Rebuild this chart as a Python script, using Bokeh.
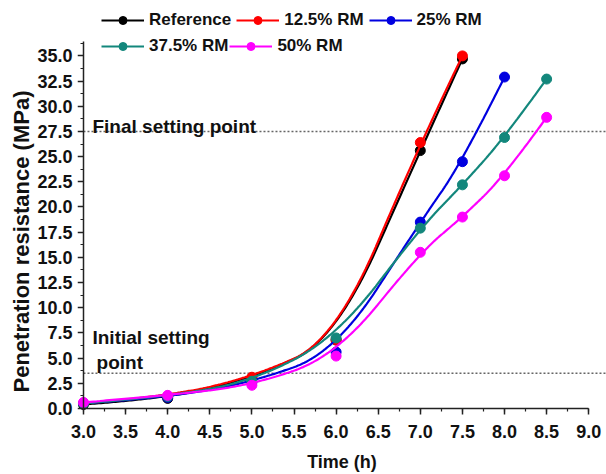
import numpy as np
from bokeh.plotting import figure
from bokeh.models import (Range1d, SingleIntervalTicker, NumeralTickFormatter,
                          Legend, LegendItem, Label, LinearAxis, Title)
from bokeh.embed import file_html
from bokeh.resources import INLINE

# Penetration resistance (MPa) against time (h)
time_short = [3.0, 4.0, 5.0, 6.0, 7.0, 7.5]
time_mid = [3.0, 4.0, 5.0, 6.0, 7.0, 7.5, 8.0]
time_long = [3.0, 4.0, 5.0, 6.0, 7.0, 7.5, 8.0, 8.5]

reference = [0.4, 1.0, 3.0, 6.8, 25.6, 34.7]
rm_12_5 = [0.5, 1.2, 3.1, 6.8, 26.4, 35.0]
rm_25 = [0.5, 1.1, 2.6, 5.6, 18.5, 24.5, 32.9]
rm_37_5 = [0.5, 1.2, 2.7, 7.0, 17.9, 22.2, 26.9, 32.7]
rm_50 = [0.6, 1.3, 2.3, 5.2, 15.5, 19.0, 23.1, 28.9]

series = [
    ("Reference", time_short, reference, "#000000"),
    ("12.5% RM", time_short, rm_12_5, "#ff0000"),
    ("25% RM", time_mid, rm_25, "#0000e0"),
    ("37.5% RM", time_long, rm_37_5, "#13877c"),
    ("50% RM", time_long, rm_50, "#ff00ff"),
]

final_setting = 27.5
initial_setting = 3.5

FONT = "Liberation Sans"
INK = "#111111"


def bspline(xs, ys, n=300, k=2):
    """Clamped uniform B-spline using the measured points as control points."""
    P = np.column_stack([xs, ys]).astype(float)
    m = len(P)
    k = min(k, m - 1)
    knots = np.concatenate([np.zeros(k + 1), np.arange(1, m - k),
                            np.full(k + 1, m - k)]).astype(float)
    t = np.linspace(0, m - k, n)
    N = np.zeros((n, len(knots) - 1))
    for i in range(len(knots) - 1):
        N[:, i] = (knots[i] <= t) & (t < knots[i + 1])
    last = np.where(knots[:-1] < knots[1:])[0][-1]
    N[t == knots[-1], last] = 1.0
    for d in range(1, k + 1):
        Nn = np.zeros((n, len(knots) - 1 - d))
        for i in range(len(knots) - 1 - d):
            a = knots[i + d] - knots[i]
            b = knots[i + d + 1] - knots[i + 1]
            term = np.zeros(n)
            if a > 0:
                term += (t - knots[i]) / a * N[:, i]
            if b > 0:
                term += (knots[i + d + 1] - t) / b * N[:, i + 1]
            Nn[:, i] = term
        N = Nn
    C = N @ P
    return C[:, 0], C[:, 1]


x_start, x_end = 2.929, 9.211
p = figure(width=606, height=474, output_backend="svg", toolbar_location=None,
           x_range=Range1d(x_start, x_end), y_range=Range1d(-0.7, 40.5),
           min_border_left=77, min_border_right=0, min_border_top=0,
           min_border_bottom=58)
p.outline_line_color = None
p.grid.visible = False
p.background_fill_color = "white"

# setting-point guide lines
for level in (final_setting, initial_setting):
    p.segment(x0=[3.0], y0=[level], x1=[x_end], y1=[level],
              line_color="#666666", line_width=1.6, line_dash="2 2")

items = []
for name, xs, ys, color in series:
    cx, cy = bspline(xs, ys)
    lr = p.line(cx, cy, line_color=color, line_width=2.2)
    sr = p.scatter(xs, ys, marker="circle", size=10, fill_color=color,
                   line_color=color)
    items.append(LegendItem(label=name, renderers=[lr, sr]))

x_ticker = SingleIntervalTicker(interval=0.5, num_minor_ticks=2)
y_ticker = SingleIntervalTicker(interval=2.5, num_minor_ticks=2)
fmt = NumeralTickFormatter(format="0.0")

# frame-edge axes carry the tick labels only
xl, yl = p.xaxis[0], p.yaxis[0]
for ax in (xl, yl):
    ax.axis_line_color = None
    ax.major_tick_line_color = None
    ax.minor_tick_line_color = None
    ax.major_tick_in = ax.major_tick_out = 0
    ax.minor_tick_in = ax.minor_tick_out = 0
    ax.major_label_text_font = FONT
    ax.major_label_text_font_style = "bold"
    ax.major_label_text_font_size = "18px"
    ax.major_label_text_color = INK
    ax.axis_label_text_font = FONT
    ax.axis_label_text_font_style = "bold"
    ax.axis_label_text_color = INK
    ax.formatter = fmt
xl.ticker = x_ticker
yl.ticker = y_ticker
xl.bounds = (3.0, 9.0)
yl.bounds = (0.0, 36.4)
xl.axis_label = "Time (h)"
xl.axis_label_text_font_size = "18px"
xl.major_label_standoff = 9
yl.major_label_standoff = 5
xl.axis_label_standoff = 11

# axis lines and ticks, crossing at (3.0, 0.0)
for ax, loc, ticker, bounds, side in [
        (LinearAxis(), 0.0, x_ticker, (3.0, 9.0), "below"),
        (LinearAxis(), 3.0, y_ticker, (0.0, 36.4), "left")]:
    ax.fixed_location = loc
    ax.ticker = ticker
    ax.bounds = bounds
    ax.axis_line_width = 1.5
    ax.axis_line_color = "#222222"
    ax.major_tick_line_color = "#222222"
    ax.minor_tick_line_color = "#222222"
    ax.major_tick_line_width = 1.5
    ax.minor_tick_line_width = 1.2
    ax.major_tick_in = 0
    ax.major_tick_out = 6
    ax.minor_tick_in = 0
    ax.minor_tick_out = 3
    ax.major_label_text_font_size = "0px"
    ax.major_label_standoff = 0
    ax.major_label_text_alpha = 0
    p.add_layout(ax, side)

# vertical axis title, starting just above the bottom of the frame
p.add_layout(Title(text="Penetration resistance (MPa)", align="left",
                   offset=23, standoff=2, text_font=FONT,
                   text_font_style="bold", text_font_size="22px",
                   text_color=INK), "left")

# annotations
for text, x, y in [("Final setting point", 3.107, 28.0),
                   ("Initial setting", 3.107, 7.0),
                   ("point", 3.155, 4.55)]:
    p.add_layout(Label(x=x, y=y, text=text, text_font=FONT,
                       text_font_style="bold", text_font_size="19px",
                       text_color=INK, text_baseline="alphabetic"))


# two-row legend above the curves
def make_legend(its, loc, spacing):
    lg = Legend(items=its, location=loc, orientation="horizontal",
                padding=0, margin=0, spacing=spacing, label_standoff=5,
                glyph_width=43, glyph_height=20, label_height=20,
                background_fill_alpha=0, border_line_alpha=0,
                label_text_font=FONT, label_text_font_style="bold",
                label_text_font_size="17px", label_text_color=INK)
    p.add_layout(lg, "center")


make_legend(items[:3], (24, 385), 5)
make_legend(items[3:], (24, 359), 1)

open("out.html", "w").write(file_html(p, INLINE))
